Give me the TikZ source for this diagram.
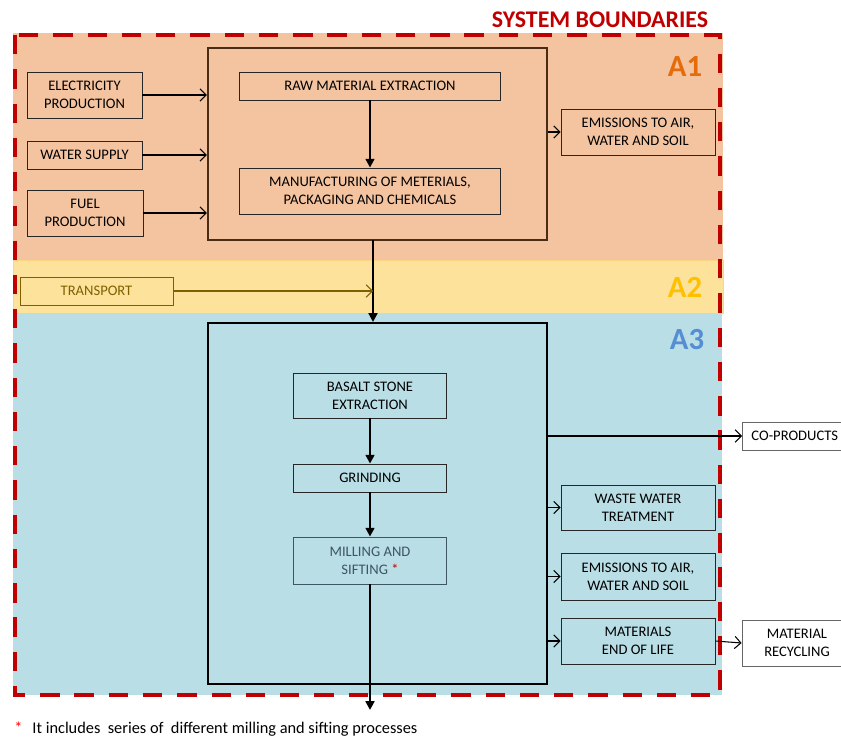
\documentclass[tikz,border=0pt]{standalone}
\usepackage{fontspec}
\setmainfont{Carlito}
\usetikzlibrary{arrows.meta}
\definecolor{phaseone}{HTML}{F4C4A0}
\definecolor{phasetwo}{HTML}{FDE29C}
\definecolor{phasethree}{HTML}{B9DEE6}
\definecolor{boundred}{HTML}{C00000}
\definecolor{olivetext}{HTML}{7F6000}
\definecolor{slatetext}{HTML}{3E5566}
\definecolor{brownframe}{HTML}{4A2C14}
\definecolor{labone}{HTML}{E46C0A}
\definecolor{labtwo}{HTML}{FFC000}
\definecolor{labthree}{HTML}{558ED5}
\tikzset{
  box/.style={draw=black!85, line width=0.5pt, inner sep=0pt, align=center,
    font=\fontsize{8.3}{10.4}\selectfont},
  frame/.style={line width=1.2pt, inner sep=0pt},
  flow/.style={line width=0.6pt, -{Straight Barb[length=3.5pt,width=7pt]}},
  main flow/.style={line width=1.3pt, -{Triangle[length=5pt,width=5pt]}},
  stage/.style={font=\bfseries\fontsize{17.5}{17.5}\selectfont},
}
\begin{document}
\begin{tikzpicture}[x=0.02cm,y=-0.02cm]
  \useasboundingbox (0,0) rectangle (841,737);
  % phases
  \fill[phaseone] (13,33) rectangle (723,260);
  \filldraw[fill=phasetwo, draw=phasetwo!85!orange] (13,260) rectangle (723,313);
  \fill[phasethree] (13,313) rectangle (722,695);
  \node[stage, text=labone] (labA1) at (685,67) {A1};
  \node[stage, text=labtwo] (labA2) at (685,287) {A2};
  \node[stage, text=labthree] (labA3) at (687,340) {A3};
  % A1
  \node[frame, draw=brownframe, minimum width=6.78cm, minimum height=3.84cm] (a1box) at (377.5,144) {};
  \node[box, minimum width=2.3cm, minimum height=0.92cm] (elec) at (84.5,95) {ELECTRICITY\\PRODUCTION};
  \node[box, minimum width=2.3cm, minimum height=0.56cm] (water) at (84.5,155) {WATER SUPPLY};
  \node[box, minimum width=2.32cm, minimum height=0.92cm] (fuel) at (85,213) {FUEL\\PRODUCTION};
  \node[box, minimum width=5.22cm, minimum height=0.56cm] (raw) at (370,86) {RAW MATERIAL EXTRACTION};
  \node[box, minimum width=5.22cm, minimum height=0.92cm] (manu) at (370,191) {MANUFACTURING OF METERIALS,\\PACKAGING AND CHEMICALS};
  \node[box, minimum width=3.08cm, minimum height=0.92cm] (emisA) at (638,132) {EMISSIONS TO AIR,\\WATER AND SOIL};
  % A2
  \node[box, draw=olivetext, text=olivetext, minimum width=3.06cm, minimum height=0.56cm] (transport) at (96.5,291) {TRANSPORT};
  % A3
  \node[frame, draw=black, minimum width=6.78cm, minimum height=7.22cm] (a3box) at (377.5,503.5) {};
  \node[box, minimum width=3.06cm, minimum height=0.9cm] (basalt) at (370,395.5) {BASALT STONE\\EXTRACTION};
  \node[box, minimum width=3.06cm, minimum height=0.56cm] (grind) at (370,478) {GRINDING};
  \node[box, draw=slatetext, text=slatetext, minimum width=3.06cm, minimum height=0.94cm] (mill) at (370,560.5) {MILLING AND\\SIFTING \textcolor{red!80!black}{*}};
  \node[box, minimum width=3.08cm, minimum height=0.9cm] (waste) at (638,507.5) {WASTE WATER\\TREATMENT};
  \node[box, minimum width=3.08cm, minimum height=0.94cm] (emisC) at (638,576.5) {EMISSIONS TO AIR,\\WATER AND SOIL};
  \node[box, minimum width=3.08cm, minimum height=0.92cm] (eol) at (638,641) {MATERIALS\\END OF LIFE};
  \node[box, draw=black!60, fill=white, minimum width=2.4cm, minimum height=0.56cm, anchor=west,
    text width=2.4cm, align=left] (coprod) at (742,436) {\hspace*{0.18cm}CO-PRODUCTS};
  \node[box, draw=black!60, fill=white, minimum width=2.2cm, minimum height=0.92cm] (recyc) at (797,643) {MATERIAL\\RECYCLING};
  % boundary
  \node[text=boundred, font=\bfseries\fontsize{13.6}{13.6}\selectfont] (title) at (600,20) {SYSTEM BOUNDARIES};
  \draw[boundred, line width=2.8pt, dash pattern=on 11pt off 8.5pt] (15,35) rectangle (720,695);
  % flows
  \coordinate (link) at (373,240);
  \coordinate (out) at (370,710);
  \draw[flow] (elec.east) -- (elec.east -| a1box.west);
  \draw[flow] (water.east) -- (water.east -| a1box.west);
  \draw[flow] (fuel.east) -- (fuel.east -| a1box.west);
  \draw[flow] (a1box.east |- emisA.west) -- (emisA.west);
  \draw[main flow] (raw) -- (manu);
  \draw[main flow] (link) -- (link |- a3box.north);
  \draw[flow, olivetext] (transport.east) -- (transport.east -| link);
  \draw[main flow] (basalt) -- (grind);
  \draw[main flow] (grind) -- (mill);
  \draw[main flow] (mill) -- (out);
  \draw[flow] (a3box.east |- coprod.west) -- (coprod.west);
  \draw[flow] (a3box.east |- waste.west) -- (waste.west);
  \draw[flow] (a3box.east |- emisC.west) -- (emisC.west);
  \draw[flow] (a3box.east |- eol.west) -- (eol.west);
  \draw[flow] (eol.east) -- (recyc.west);
  % note
  \node[anchor=west, font=\fontsize{9.3}{11}\selectfont, inner sep=0pt] (note) at (14,729)
    {\textcolor{red}{*}\hspace{0.2cm}It includes\ \ series of\ \ different milling and sifting processes};
\end{tikzpicture}
\end{document}
